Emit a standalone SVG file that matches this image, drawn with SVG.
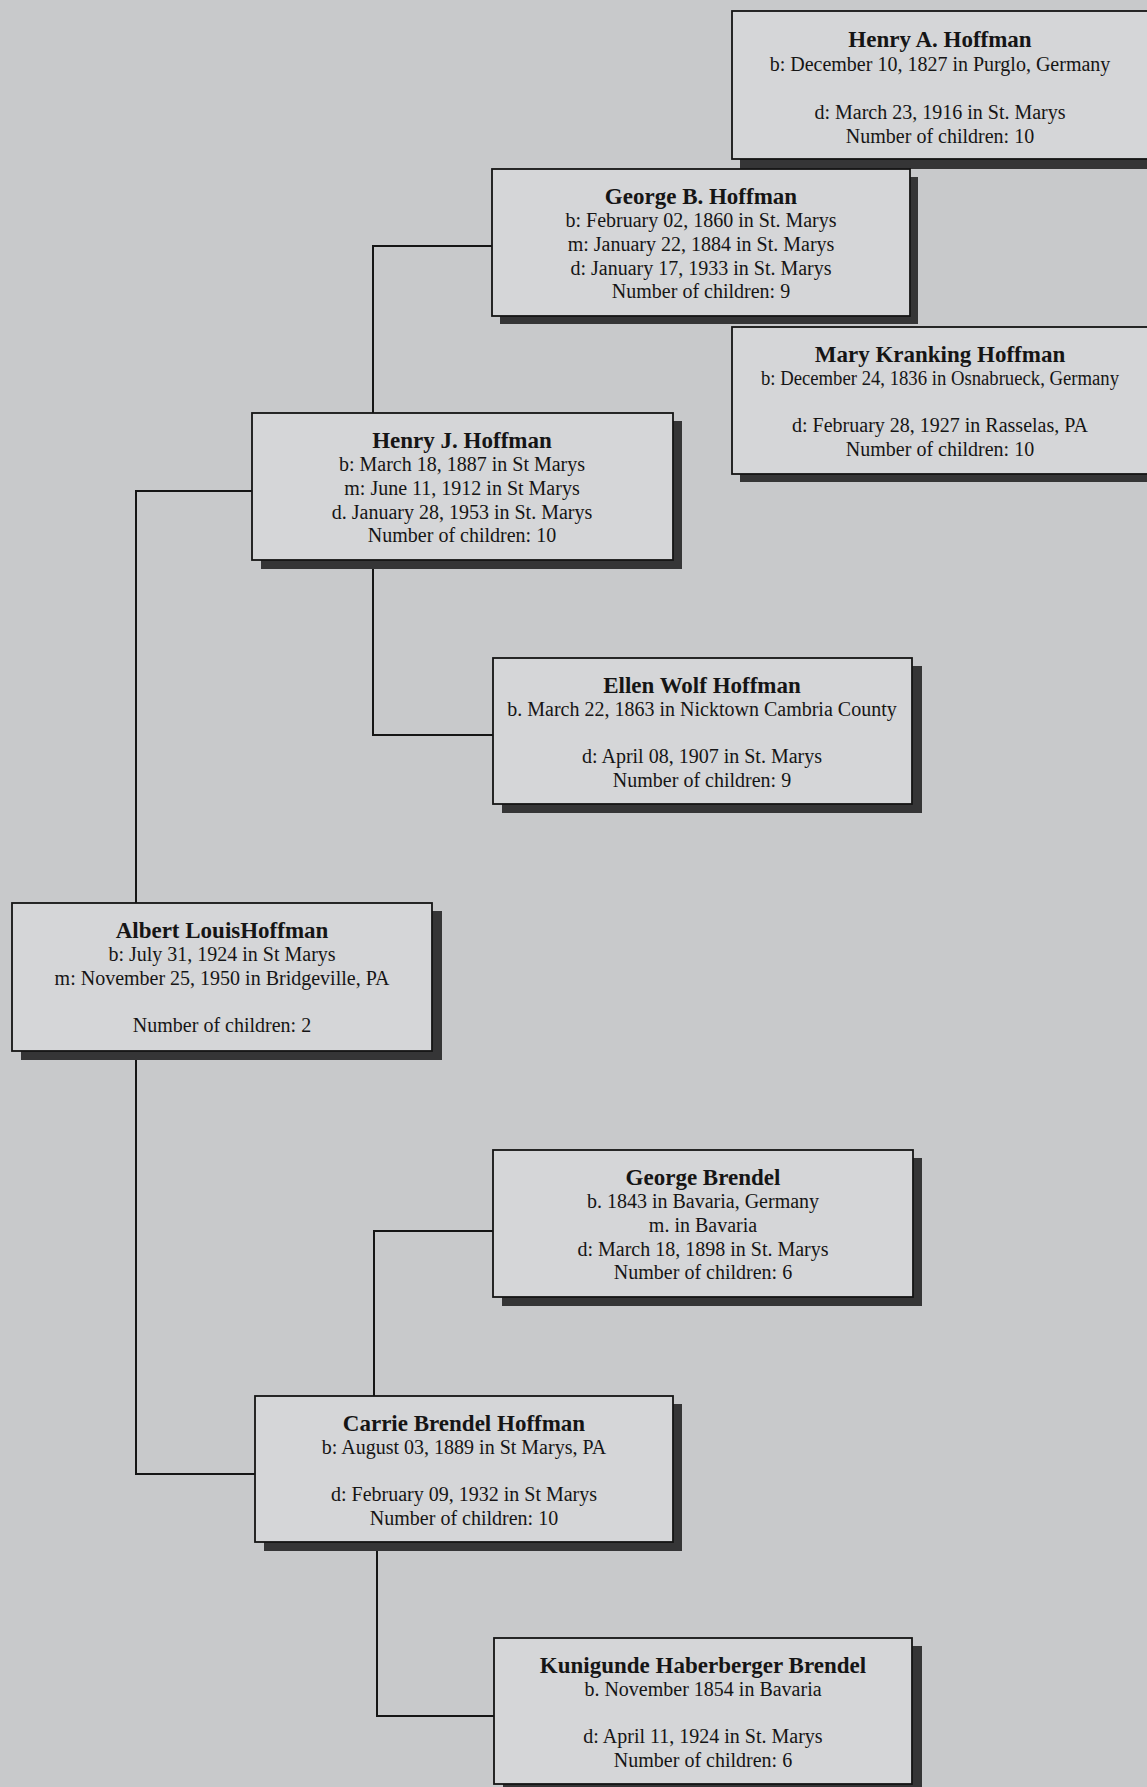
<svg xmlns="http://www.w3.org/2000/svg" width="1147" height="1787" viewBox="0 0 1147 1787">
<style>
.bg{fill:#c8c9cb}
.shadow{fill:#353536}
.box{fill:#d5d6d8;stroke:#141414;stroke-width:1.8}
.conn{fill:none;stroke:#151515;stroke-width:2}
text{font-family:"Liberation Serif","Times New Roman",serif;fill:#151515;text-anchor:middle}
.name{font-size:23px;font-weight:bold}
.info{font-size:20px}
</style>
<rect class="bg" x="0" y="0" width="1147" height="1787"/>
<g id="connectors">
<polyline class="conn" points="492,246 373,246 373,413"/>
<polyline class="conn" points="373,560 373,735 493,735"/>
<polyline class="conn" points="252,491 136,491 136,903"/>
<polyline class="conn" points="136,1051 136,1474 255,1474"/>
<polyline class="conn" points="374,1396 374,1231 493,1231"/>
<polyline class="conn" points="377,1542 377,1716 494,1716"/>
</g>
<g id="henry-a-hoffman">
<rect class="shadow" x="740" y="19" width="418" height="150"/>
<rect class="box" x="732" y="11" width="418" height="148"/>
<text class="name" x="940" y="47">Henry A. Hoffman</text>
<text class="info" x="940" y="71">b: December 10, 1827 in Purglo, Germany</text>
<text class="info" x="940" y="119">d: March 23, 1916 in St. Marys</text>
<text class="info" x="940" y="143">Number of children: 10</text>
</g>
<g id="george-b-hoffman">
<rect class="shadow" x="500" y="177" width="418" height="147"/>
<rect class="box" x="492" y="169" width="418" height="147"/>
<text class="name" x="701" y="204">George B. Hoffman</text>
<text class="info" x="701" y="227">b: February 02, 1860 in St. Marys</text>
<text class="info" x="701" y="251">m: January 22, 1884 in St. Marys</text>
<text class="info" x="701" y="275">d: January 17, 1933 in St. Marys</text>
<text class="info" x="701" y="298">Number of children: 9</text>
</g>
<g id="mary-kranking-hoffman">
<rect class="shadow" x="740" y="335" width="418" height="147"/>
<rect class="box" x="732" y="327" width="418" height="147"/>
<text class="name" x="940" y="362">Mary Kranking Hoffman</text>
<text class="info" x="940" y="385" textLength="358" lengthAdjust="spacingAndGlyphs">b: December 24, 1836 in Osnabrueck, Germany</text>
<text class="info" x="940" y="432">d: February 28, 1927 in Rasselas, PA</text>
<text class="info" x="940" y="456">Number of children: 10</text>
</g>
<g id="henry-j-hoffman">
<rect class="shadow" x="261" y="421" width="421" height="148"/>
<rect class="box" x="252" y="413" width="421" height="147"/>
<text class="name" x="462" y="448">Henry J. Hoffman</text>
<text class="info" x="462" y="471">b: March 18, 1887 in St Marys</text>
<text class="info" x="462" y="495">m: June 11, 1912 in St Marys</text>
<text class="info" x="462" y="519">d. January 28, 1953 in St. Marys</text>
<text class="info" x="462" y="542">Number of children: 10</text>
</g>
<g id="ellen-wolf-hoffman">
<rect class="shadow" x="502" y="666" width="420" height="147"/>
<rect class="box" x="493" y="658" width="419" height="146"/>
<text class="name" x="702" y="693">Ellen Wolf Hoffman</text>
<text class="info" x="702" y="716">b. March 22, 1863 in Nicktown Cambria County</text>
<text class="info" x="702" y="763">d: April 08, 1907 in St. Marys</text>
<text class="info" x="702" y="787">Number of children: 9</text>
</g>
<g id="albert-louis-hoffman">
<rect class="shadow" x="21" y="911" width="421" height="149"/>
<rect class="box" x="12" y="903" width="420" height="148"/>
<text class="name" x="222" y="938">Albert LouisHoffman</text>
<text class="info" x="222" y="961">b: July 31, 1924 in St Marys</text>
<text class="info" x="222" y="985">m: November 25, 1950 in Bridgeville, PA</text>
<text class="info" x="222" y="1032">Number of children: 2</text>
</g>
<g id="george-brendel">
<rect class="shadow" x="502" y="1158" width="420" height="148"/>
<rect class="box" x="493" y="1150" width="420" height="147"/>
<text class="name" x="703" y="1185">George Brendel</text>
<text class="info" x="703" y="1208">b. 1843 in Bavaria, Germany</text>
<text class="info" x="703" y="1232">m. in Bavaria</text>
<text class="info" x="703" y="1256">d: March 18, 1898 in St. Marys</text>
<text class="info" x="703" y="1279">Number of children: 6</text>
</g>
<g id="carrie-brendel-hoffman">
<rect class="shadow" x="264" y="1404" width="418" height="147"/>
<rect class="box" x="255" y="1396" width="418" height="146"/>
<text class="name" x="464" y="1431">Carrie Brendel Hoffman</text>
<text class="info" x="464" y="1454">b: August 03, 1889 in St Marys, PA</text>
<text class="info" x="464" y="1501">d: February 09, 1932 in St Marys</text>
<text class="info" x="464" y="1525">Number of children: 10</text>
</g>
<g id="kunigunde-haberberger-brendel">
<rect class="shadow" x="503" y="1646" width="419" height="150"/>
<rect class="box" x="494" y="1638" width="418" height="146"/>
<text class="name" x="703" y="1673">Kunigunde Haberberger Brendel</text>
<text class="info" x="703" y="1696">b. November 1854 in Bavaria</text>
<text class="info" x="703" y="1743">d: April 11, 1924 in St. Marys</text>
<text class="info" x="703" y="1767">Number of children: 6</text>
</g>
</svg>
